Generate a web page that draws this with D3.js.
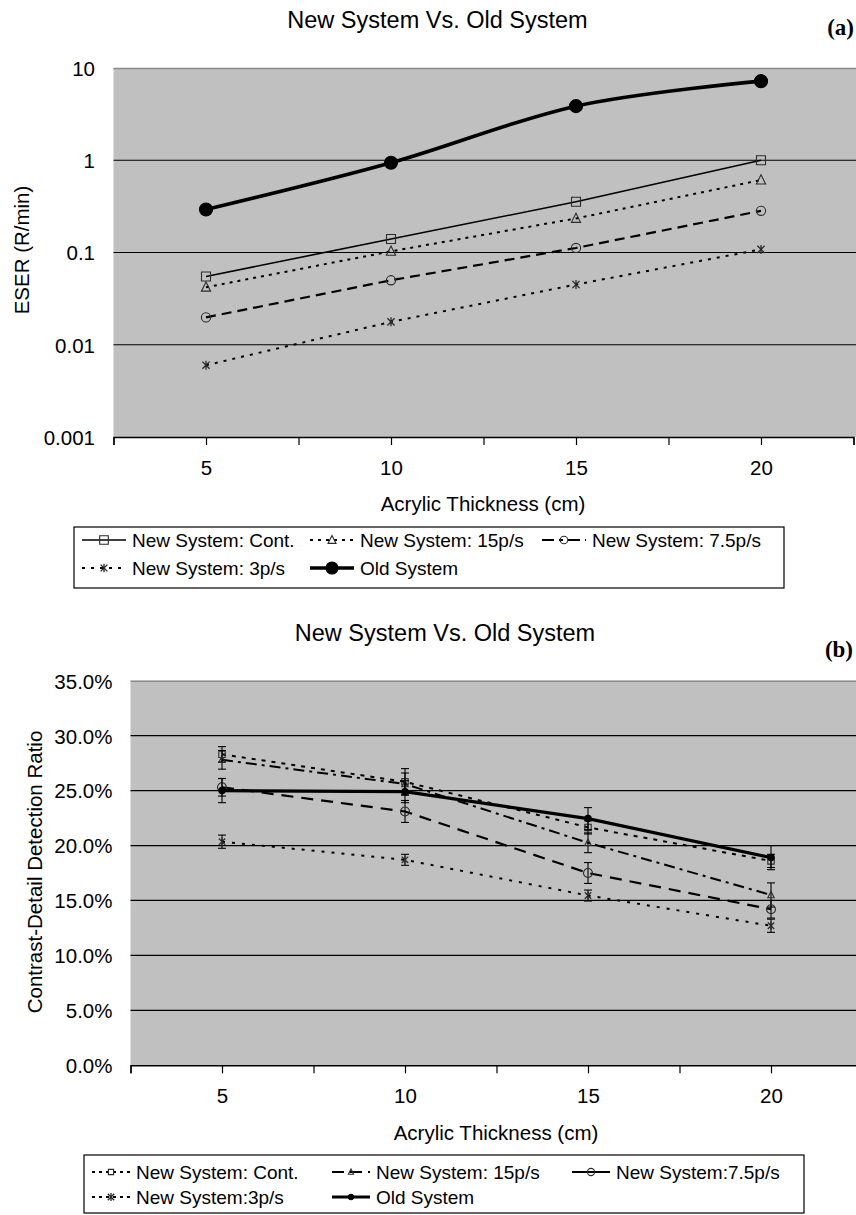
<!DOCTYPE html>
<html>
<head>
<meta charset="utf-8">
<script src="https://cdn.jsdelivr.net/npm/d3@7"></script>
<style>
  html, body { margin: 0; padding: 0; background: #fff; }
  svg { display: block; }
  text { font-family: "Liberation Sans", Arial, Helvetica, sans-serif; fill: #000; }
</style>
</head>
<body>
<svg id="chart" width="856" height="1215"></svg>
<script>
// ---- data ----
const thickness = [5, 10, 15, 20];
const xTickValues = [2.5, 5, 7.5, 10, 12.5, 15, 17.5, 20, 22.5];
const xTickLabels = ["5", "10", "15", "20"];
const seriesNames = ["New System: Cont.", "New System: 15p/s", "New System: 7.5p/s", "New System: 3p/s", "Old System"];
const seriesNamesB = ["New System: Cont.", "New System: 15p/s", "New System:7.5p/s", "New System:3p/s", "Old System"];

// (a) ESER, R/min
const eserCont = [0.055, 0.140, 0.355, 1.00];
const eser15 = [0.042, 0.103, 0.234, 0.61];
const eser75 = [0.0198, 0.050, 0.112, 0.283];
const eser3 = [0.0060, 0.0177, 0.045, 0.108];
const eserOld = [0.293, 0.94, 3.86, 7.2];
const eserTicks = [0.001, 0.01, 0.1, 1, 10];
const eserTickLabels = ["0.001", "0.01", "0.1", "1", "10"];

// (b) contrast-detail detection ratio and error half-widths
const cdCont = [0.283, 0.258, 0.2165, 0.186];
const cd15 = [0.278, 0.256, 0.2025, 0.155];
const cd75 = [0.253, 0.231, 0.175, 0.142];
const cd3 = [0.2035, 0.187, 0.1545, 0.127];
const cdOld = [0.250, 0.249, 0.2245, 0.189];
const errCont = [0.007, 0.012, 0.006, 0.006];
const err15 = [0.0085, 0.010, 0.009, 0.011];
const err75 = [0.008, 0.010, 0.0095, 0.008];
const err3 = [0.006, 0.005, 0.005, 0.006];
const errOld = [0.011, 0.010, 0.010, 0.011];
const cdTicks = [0, 0.05, 0.10, 0.15, 0.20, 0.25, 0.30, 0.35];
const cdTickLabels = ["0.0%", "5.0%", "10.0%", "15.0%", "20.0%", "25.0%", "30.0%", "35.0%"];

// ---- helpers ----
const svg = d3.select("#chart");
const FONT = 20.5;
const LEGEND_FONT = 19;

const starPath = s => `M${-s},${-s}L${s},${s}M${-s},${s}L${s},${-s}M0,${-s * 1.25}L0,${s * 1.25}`;
function markerPath(type, size) {
  if (type === "square") return `M${-size},${-size}h${2 * size}v${2 * size}h${-2 * size}Z`;
  if (type === "triangle") return `M0,${-size * 1.15}L${size},${size * 0.85}L${-size},${size * 0.85}Z`;
  if (type === "circle") return d3.symbol(d3.symbolCircle, Math.PI * size * size)();
  if (type === "star") return starPath(size);
  if (type === "dot") return d3.symbol(d3.symbolCircle, Math.PI * size * size)();
  return "";
}
function drawMarker(g, type, size, x, y) {
  const filled = type === "dot";
  g.append("path")
    .attr("d", markerPath(type, size))
    .attr("transform", `translate(${x},${y})`)
    .attr("fill", filled ? "#000" : "none")
    .attr("stroke", filled ? "#000" : "#2a2a2a")
    .attr("stroke-width", type === "star" ? 1.3 : 1.1);
}

function drawAxisTitle(g, txt, x, y, rotate, size) {
  g.append("text")
    .attr("transform", `translate(${x},${y})` + (rotate ? " rotate(-90)" : ""))
    .attr("text-anchor", "middle")
    .attr("font-size", size)
    .text(txt);
}

function drawLegend(g, box, entries) {
  g.append("rect")
    .attr("x", box.x).attr("y", box.y).attr("width", box.w).attr("height", box.h)
    .attr("fill", "#fff").attr("stroke", "#000").attr("stroke-width", 1.2);
  entries.forEach(e => {
    const cy = e.baseline - 7;
    g.append("line")
      .attr("x1", e.kx).attr("x2", e.kx + box.keyLen)
      .attr("y1", cy).attr("y2", cy)
      .attr("stroke", "#000")
      .attr("stroke-width", e.style.width)
      .attr("stroke-dasharray", e.style.legendDash !== undefined ? e.style.legendDash : e.style.dash);
    drawMarker(g, e.style.marker, e.style.legendSize, e.kx + box.keyLen / 2, cy);
    g.append("text")
      .attr("x", e.kx + box.keyLen + box.gap)
      .attr("y", e.baseline)
      .attr("font-size", box.font)
      .text(e.name);
  });
}

// ================= Panel (a) =================
{
  const g = svg.append("g");
  const left = 113.5, right = 853.5, top = 68, bottom = 437;
  const x = d3.scaleLinear().domain([2.5, 22.5]).range([left, right]);
  const y = d3.scaleLog().domain([0.001, 10]).range([bottom, top]);

  g.append("rect").attr("x", left).attr("y", top).attr("width", 856 - left).attr("height", bottom - top)
    .attr("fill", "#c0c0c0");
  g.append("line").attr("x1", left).attr("x2", 856).attr("y1", top + 0.5).attr("y2", top + 0.5)
    .attr("stroke", "#8a8a8a").attr("stroke-width", 1.5);

  // horizontal gridlines
  g.selectAll(".grid").data(eserTicks.slice(1, -1)).enter().append("line")
    .attr("x1", left).attr("x2", 856)
    .attr("y1", d => y(d)).attr("y2", d => y(d))
    .attr("stroke", "#000").attr("stroke-width", 1.2);

  // y axis labels
  const yAxis = d3.axisLeft(y).tickValues(eserTicks).tickSize(0).tickPadding(left - 95)
    .tickFormat((d, i) => eserTickLabels[i]);
  const ya = g.append("g").attr("transform", `translate(${left},0)`).call(yAxis);
  ya.select(".domain").remove();
  ya.selectAll("text").attr("font-size", FONT).attr("font-family", null).attr("dy", "0.36em");

  // x axis
  const xAxis = d3.axisBottom(x).tickValues(xTickValues).tickSize(8).tickPadding(15)
    .tickFormat(d => { const i = thickness.indexOf(d); return i >= 0 ? xTickLabels[i] : ""; });
  const xa = g.append("g").attr("transform", `translate(0,${bottom})`).call(xAxis);
  xa.select(".domain").attr("stroke", "#000").attr("stroke-width", 1.4);
  xa.selectAll(".tick line").attr("stroke", "#000").attr("stroke-width", 1.2);
  xa.selectAll("text").attr("font-size", FONT).attr("font-family", null);

  // titles
  g.append("text").attr("x", 437.5).attr("y", 27.5).attr("text-anchor", "middle")
    .attr("font-size", 23.5).text("New System Vs. Old System");
  g.append("text").attr("x", 854).attr("y", 35).attr("text-anchor", "end")
    .attr("font-size", 23).attr("font-weight", "bold")
    .style("font-family", "'Liberation Serif', 'Times New Roman', serif").text("(a)");
  drawAxisTitle(g, "ESER (R/min)", 29, 250, true, FONT);
  drawAxisTitle(g, "Acrylic Thickness (cm)", 483, 511, false, FONT);

  const styles = [
    { data: eserCont, marker: "square", size: 4.5, width: 1.6, dash: null, legendSize: 4.3 },
    { data: eser15, marker: "triangle", size: 4.6, width: 2, dash: "3,5", legendSize: 4 },
    { data: eser75, marker: "circle", size: 4.6, width: 2.2, dash: "10,6", legendSize: 3.8, legendDash: "12,5,4,5" },
    { data: eser3, marker: "star", size: 3.6, width: 2, dash: "3,6", legendSize: 3.4 },
    { data: eserOld, marker: "dot", size: 6.5, width: 3.6, dash: null, legendSize: 6, smooth: true }
  ];
  styles.forEach(s => {
    const line = d3.line()
      .x((d, i) => x(thickness[i])).y(d => y(d))
      .curve(s.smooth ? d3.curveCardinal.tension(0) : d3.curveLinear);
    g.append("path").datum(s.data).attr("d", line)
      .attr("fill", "none").attr("stroke", "#000")
      .attr("stroke-width", s.width)
      .attr("stroke-dasharray", s.dash);
    s.data.forEach((v, i) => drawMarker(g, s.marker, s.size, x(thickness[i]), y(v)));
  });

  const box = { x: 74, y: 527, w: 710, h: 61, keyLen: 44, gap: 6, font: LEGEND_FONT };
  const cols = [82, 310, 542];
  const rows = [547, 575];
  const layout = [[0, 0], [1, 0], [2, 0], [0, 1], [1, 1]];
  drawLegend(g, box, styles.map((s, i) => ({
    name: seriesNames[i], style: s, kx: cols[layout[i][0]], baseline: rows[layout[i][1]]
  })));
}

// ================= Panel (b) =================
{
  const g = svg.append("g");
  const left = 130.5, right = 862.5, top = 680.7, bottom = 1065.3;
  const x = d3.scaleLinear().domain([2.5, 22.5]).range([left, right]);
  const y = d3.scaleLinear().domain([0, 0.35]).range([bottom, top]);

  g.append("rect").attr("x", left).attr("y", top).attr("width", 856 - left).attr("height", bottom - top)
    .attr("fill", "#c0c0c0");
  g.append("line").attr("x1", left).attr("x2", 856).attr("y1", top + 0.5).attr("y2", top + 0.5)
    .attr("stroke", "#8a8a8a").attr("stroke-width", 1.5);

  g.selectAll(".grid").data(cdTicks.slice(1, -1)).enter().append("line")
    .attr("x1", left).attr("x2", 856)
    .attr("y1", d => y(d)).attr("y2", d => y(d))
    .attr("stroke", "#000").attr("stroke-width", 1.2);

  const yAxis = d3.axisLeft(y).tickValues(cdTicks).tickSize(0).tickPadding(left - 112.5)
    .tickFormat((d, i) => cdTickLabels[i]);
  const ya = g.append("g").attr("transform", `translate(${left},0)`).call(yAxis);
  ya.select(".domain").remove();
  ya.selectAll("text").attr("font-size", FONT).attr("font-family", null).attr("dy", "0.36em");

  const xAxis = d3.axisBottom(x).tickValues(xTickValues).tickSize(8).tickPadding(15)
    .tickFormat(d => { const i = thickness.indexOf(d); return i >= 0 ? xTickLabels[i] : ""; });
  const xa = g.append("g").attr("transform", `translate(0,${bottom})`).call(xAxis);
  xa.select(".domain").attr("stroke", "#000").attr("stroke-width", 1.4);
  xa.selectAll(".tick line").attr("stroke", "#000").attr("stroke-width", 1.2);
  xa.selectAll("text").attr("font-size", FONT).attr("font-family", null);

  g.append("text").attr("x", 445).attr("y", 641).attr("text-anchor", "middle")
    .attr("font-size", 23.5).text("New System Vs. Old System");
  g.append("text").attr("x", 853).attr("y", 657).attr("text-anchor", "end")
    .attr("font-size", 23).attr("font-weight", "bold")
    .style("font-family", "'Liberation Serif', 'Times New Roman', serif").text("(b)");
  drawAxisTitle(g, "Contrast-Detail Detection Ratio", 42, 872, true, FONT);
  drawAxisTitle(g, "Acrylic Thickness (cm)", 496, 1140, false, FONT);

  const styles = [
    { data: cdCont, err: errCont, marker: "square", size: 3.2, width: 2, dash: "4,6", legendSize: 2.6, legendDash: "3,4" },
    { data: cd15, err: err15, marker: "triangle", size: 3.2, width: 2, dash: "11,5,3,5", legendSize: 2.6, legendDash: "12,6" },
    { data: cd75, err: err75, marker: "circle", size: 4.5, width: 2.2, dash: "12,8", legendSize: 3.6, legendDash: null },
    { data: cd3, err: err3, marker: "star", size: 3.2, width: 2, dash: "3,7", legendSize: 3.2, legendDash: "3,4" },
    { data: cdOld, err: errOld, marker: "dot", size: 3.2, width: 3.2, dash: null, legendSize: 2.8 }
  ];
  styles.forEach(s => {
    const line = d3.line().x((d, i) => x(thickness[i])).y(d => y(d));
    g.append("path").datum(s.data).attr("d", line)
      .attr("fill", "none").attr("stroke", "#000")
      .attr("stroke-width", s.width)
      .attr("stroke-dasharray", s.dash);
  });
  styles.forEach(s => {
    s.data.forEach((v, i) => {
      const cx = x(thickness[i]);
      const y1 = y(v + s.err[i]), y2 = y(v - s.err[i]);
      g.append("line").attr("x1", cx).attr("x2", cx).attr("y1", y1).attr("y2", y2)
        .attr("stroke", "#000").attr("stroke-width", 1.1);
      [y1, y2].forEach(yy => g.append("line")
        .attr("x1", cx - 4).attr("x2", cx + 4).attr("y1", yy).attr("y2", yy)
        .attr("stroke", "#000").attr("stroke-width", 1.1));
      drawMarker(g, s.marker, s.size, cx, y(v));
    });
  });

  const box = { x: 84, y: 1155, w: 720, h: 58, keyLen: 38, gap: 6, font: LEGEND_FONT };
  const cols = [92, 332, 572];
  const rows = [1179, 1204];
  const layout = [[0, 0], [1, 0], [2, 0], [0, 1], [1, 1]];
  drawLegend(g, box, styles.map((s, i) => ({
    name: seriesNamesB[i], style: s, kx: cols[layout[i][0]], baseline: rows[layout[i][1]]
  })));
}
</script>
</body>
</html>
